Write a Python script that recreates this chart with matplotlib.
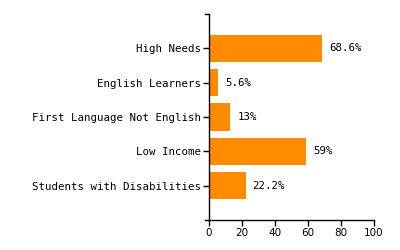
import matplotlib
matplotlib.use("Agg")
import matplotlib.pyplot as plt

categories = ["High Needs", "English Learners", "First Language Not English",
              "Low Income", "Students with Disabilities"]
values = [68.6, 5.6, 13.0, 59.0, 22.2]
value_labels = ["68.6%", "5.6%", "13%", "59%", "22.2%"]
xticks = [0, 20, 40, 60, 80, 100]

fig = plt.figure(figsize=(4, 2.5), dpi=100)
ax = fig.add_axes([0.5225, 0.12, 0.4125, 0.824])

pos = list(range(len(categories)))
ax.barh(pos, values, height=0.8, color="#FF8C00")
ax.set_ylim(5, -1)
ax.set_xlim(0, 100)

mono = "DejaVu Sans Mono"
ax.set_yticks(pos)
ax.set_yticklabels(categories, family=mono, fontsize=7.75)
ax.set_xticks(xticks)
ax.set_xticklabels([str(t) for t in xticks], family="DejaVu Sans", fontsize=7.5)
ax.tick_params(axis="y", length=4, width=1, pad=2)
ax.tick_params(axis="x", length=4, width=1, pad=2)

for s in ["top", "right"]:
    ax.spines[s].set_visible(False)
for s in ["left", "bottom"]:
    ax.spines[s].set_linewidth(1)

for p, v, lab in zip(pos, values, value_labels):
    ax.annotate(lab, xy=(v, p), xytext=(5, 0), textcoords="offset points",
                va="center", ha="left", family=mono, fontsize=7.75)

# outer ticks at the ends of the y axis (d3 style)
tr = ax.transAxes
ax.plot([-0.022, 0], [1, 1], color="black", lw=1, transform=tr, clip_on=False)
ax.plot([-0.022, 0], [0, 0], color="black", lw=1, transform=tr, clip_on=False)

fig.savefig("out.png", dpi=100)
